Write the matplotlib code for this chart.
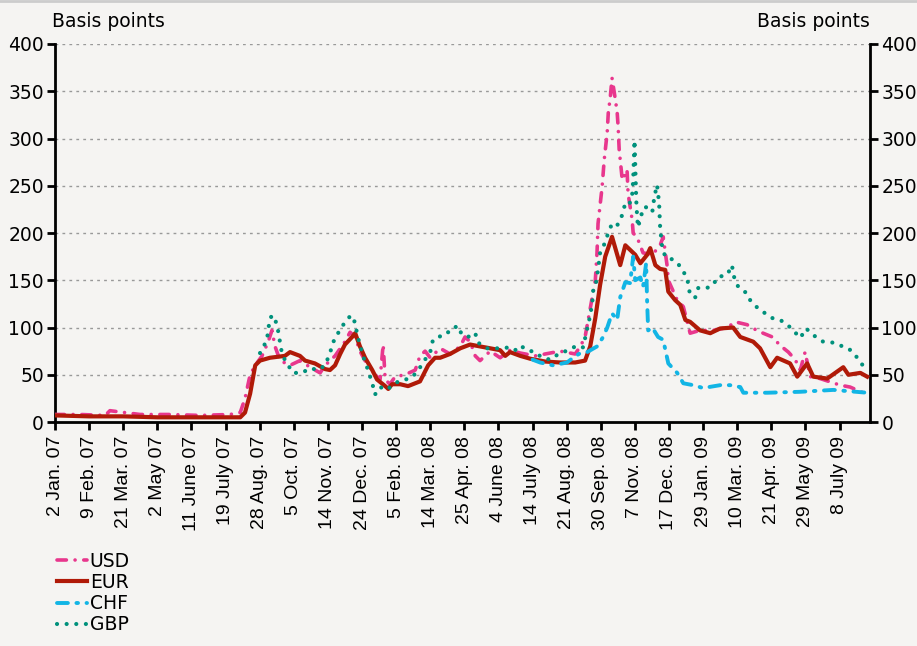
import matplotlib.pyplot as plt
from matplotlib.lines import Line2D

# x positions are in "tick units": 0 = 2 Jan. 07, 1 = 9 Feb. 07, ... 23 = 8 July 09
tick_labels = ['2 Jan. 07', '9 Feb. 07', '21 Mar. 07', '2 May 07', '11 June 07',
               '19 July 07', '28 Aug. 07', '5 Oct. 07', '14 Nov. 07', '24 Dec. 07',
               '5 Feb. 08', '14 Mar. 08', '25 Apr. 08', '4 June 08', '14 July 08',
               '21 Aug. 08', '30 Sep. 08', '7 Nov. 08', '17 Dec. 08', '29 Jan. 09',
               '10 Mar. 09', '21 Apr. 09', '29 May 09', '8 July 09']
y_ticks = [0, 50, 100, 150, 200, 250, 300, 350, 400]

eur = [(0, 7), (1.0, 6), (2.0, 6), (3.0, 5), (4.0, 5), (5.0, 5), (5.43, 5), (5.57, 10),
       (5.72, 30), (5.87, 60), (6.01, 65), (6.30, 68), (6.74, 70), (6.89, 74), (7.18, 70),
       (7.33, 65), (7.62, 62), (7.92, 56), (8.06, 55), (8.21, 60), (8.36, 72), (8.50, 82),
       (8.71, 90), (8.80, 94), (8.94, 80), (9.09, 68), (9.30, 55), (9.44, 45), (9.68, 38),
       (9.77, 35), (9.88, 40), (10.12, 40), (10.35, 38), (10.70, 43), (10.94, 60), (11.14, 68),
       (11.29, 68), (11.58, 72), (11.88, 78), (12.17, 82), (12.46, 80), (12.76, 78), (13.05, 76),
       (13.20, 70), (13.34, 74), (13.64, 70), (13.93, 67), (14.37, 64), (14.81, 63), (15.25, 63),
       (15.54, 65), (15.69, 80), (15.84, 110), (15.98, 145), (16.13, 175), (16.33, 196),
       (16.57, 166), (16.72, 187), (17.01, 177), (17.16, 168), (17.36, 177), (17.45, 184),
       (17.60, 166), (17.74, 162), (17.89, 161), (17.98, 138), (18.18, 129), (18.33, 124),
       (18.48, 108), (18.62, 106), (18.91, 97), (19.21, 94), (19.50, 99), (19.88, 100),
       (20.09, 90), (20.47, 85), (20.67, 78), (20.97, 58), (21.17, 68), (21.55, 62), (21.76, 48),
       (22.05, 62), (22.23, 48), (22.64, 46), (23.11, 58), (23.26, 50), (23.61, 52), (23.81, 48)]

usd = [(0, 8), (0.73, 8), (1.47, 7), (1.61, 12), (2.49, 8), (3.37, 8), (4.25, 7), (5.13, 8),
       (5.43, 10), (5.57, 25), (5.72, 50), (5.87, 60), (6.07, 70), (6.25, 85), (6.36, 97),
       (6.45, 80), (6.60, 65), (6.89, 60), (7.18, 65), (7.48, 58), (7.77, 52), (7.92, 60),
       (8.21, 70), (8.50, 85), (8.65, 95), (8.80, 90), (8.94, 75), (9.09, 65), (9.38, 50),
       (9.53, 45), (9.62, 82), (9.68, 45), (9.82, 40), (9.97, 48), (10.26, 50), (10.56, 55),
       (10.70, 70), (10.85, 75), (11.00, 68), (11.29, 78), (11.58, 72), (11.88, 80), (12.02, 90),
       (12.17, 85), (12.32, 70), (12.46, 65), (12.76, 75), (13.05, 68), (13.34, 76), (13.64, 73),
       (14.08, 70), (14.37, 72), (14.81, 75), (15.25, 72), (15.40, 80), (15.54, 90), (15.69, 120),
       (15.84, 150), (15.89, 179), (15.92, 210), (16.04, 249), (16.10, 277), (16.19, 307),
       (16.22, 327), (16.28, 344), (16.33, 364), (16.42, 343), (16.48, 328), (16.51, 312),
       (16.54, 288), (16.60, 267), (16.63, 256), (16.77, 267), (16.80, 242), (16.86, 228),
       (16.92, 214), (16.95, 200), (17.07, 195), (17.24, 179), (17.51, 177), (17.74, 187),
       (17.83, 196), (17.95, 164), (17.98, 150), (18.24, 129), (18.42, 122), (18.62, 94),
       (18.91, 97), (19.30, 97), (19.71, 100), (19.94, 106), (20.29, 103), (20.47, 99),
       (20.76, 94), (21.03, 90), (21.26, 81), (21.50, 74), (21.70, 66), (21.85, 55), (21.99, 74),
       (22.14, 48), (22.43, 46), (23.02, 39), (23.31, 37), (23.69, 31)]

chf = [(14.0, 66), (14.22, 63), (14.60, 60), (15.01, 63), (15.19, 68), (15.40, 73), (15.60, 74),
       (15.89, 80), (16.07, 90), (16.19, 100), (16.33, 115), (16.48, 108), (16.57, 132),
       (16.72, 148), (16.86, 147), (16.95, 175), (17.01, 150), (17.16, 153), (17.24, 143),
       (17.33, 168), (17.36, 126), (17.39, 97), (17.51, 100), (17.68, 90), (17.83, 87),
       (17.98, 62), (18.24, 52), (18.42, 41), (18.71, 39), (19.00, 36), (19.50, 39), (19.79, 39),
       (20.09, 37), (20.18, 31), (20.88, 31), (21.85, 32), (22.82, 34), (23.81, 31)]

gbp = [(6.01, 73), (6.10, 78), (6.22, 89), (6.25, 97), (6.30, 110), (6.39, 113), (6.51, 103),
       (6.57, 90), (6.66, 71), (6.80, 62), (6.98, 52), (7.24, 52), (7.48, 57), (7.71, 55),
       (7.92, 60), (8.06, 73), (8.21, 90), (8.36, 97), (8.50, 106), (8.68, 113), (8.80, 105),
       (8.86, 92), (9.00, 74), (9.09, 63), (9.18, 55), (9.33, 37), (9.38, 29), (9.53, 37),
       (9.74, 34), (9.88, 39), (10.12, 44), (10.41, 46), (10.62, 53), (10.79, 63), (11.00, 74),
       (11.08, 87), (11.23, 89), (11.44, 95), (11.58, 95), (11.79, 102), (11.94, 92), (12.17, 90),
       (12.32, 94), (12.40, 84), (12.67, 78), (12.84, 78), (13.05, 78), (13.34, 79), (13.49, 76),
       (13.64, 81), (13.84, 76), (14.08, 74), (14.28, 68), (14.52, 66), (14.72, 71), (14.90, 74),
       (15.04, 76), (15.31, 81), (15.48, 79), (15.63, 103), (15.69, 113), (15.75, 126),
       (15.78, 140), (15.84, 143), (15.92, 161), (15.98, 179), (16.07, 185), (16.22, 200),
       (16.33, 210), (16.48, 208), (16.57, 214), (16.66, 222), (16.72, 233), (16.86, 232),
       (16.92, 240), (16.95, 256), (16.97, 277), (16.99, 298), (17.02, 260), (17.04, 235),
       (17.07, 214), (17.10, 206), (17.16, 217), (17.30, 228), (17.51, 222), (17.57, 238),
       (17.65, 251), (17.71, 232), (17.74, 206), (17.80, 185), (17.89, 175), (17.95, 175),
       (18.24, 169), (18.53, 153), (18.62, 134), (18.77, 132), (18.86, 142), (19.12, 142),
       (19.30, 145), (19.41, 153), (19.71, 156), (19.85, 166), (19.88, 156), (20.03, 143),
       (20.29, 136), (20.38, 129), (20.59, 121), (20.82, 115), (21.03, 110), (21.26, 108),
       (21.47, 103), (21.64, 97), (21.85, 89), (22.02, 99), (22.23, 92), (22.52, 85), (22.82, 84),
       (23.02, 81), (23.26, 78), (23.46, 71), (23.61, 63), (23.81, 55)]

bg = '#f5f4f2'
plt.rcParams['font.family'] = ['DejaVu Sans']

fig = plt.figure(figsize=(9.17, 6.46), dpi=100, facecolor=bg)
ax = fig.add_axes([0.06, 0.3467, 0.889, 0.5852], facecolor=bg)

# les 4 séries
def trace(data, **kw):
    xs = [p[0] for p in data]
    ys = [p[1] for p in data]
    return ax.plot(xs, ys, **kw)[0]

l_usd = trace(usd, color='#e8378d', lw=2.6, ls=(0, (2.6, 2.4, 0.01, 2.4)),
              dash_capstyle='round', solid_capstyle='round', label='USD', zorder=3)
l_eur = trace(eur, color='#b01a08', lw=3.0, label='EUR', zorder=4)
l_chf = trace(chf, color='#12b5e5', lw=2.8, ls=(0, (2.8, 2.2, 0.4, 2.2)),
              dash_capstyle='round', label='CHF', zorder=5)
l_gbp = trace(gbp, color='#00917c', lw=3.0, ls=(0, (0.01, 2.3)),
              dash_capstyle='round', label='GBP', zorder=6)

ax.set_xlim(0, 23.9)
ax.set_ylim(0, 400)
ax.set_yticks(y_ticks)
ax.set_xticks(range(len(tick_labels)))
ax.set_xticklabels(tick_labels, rotation=90, family='Liberation Sans', fontsize=14)
ax.tick_params(axis='y', labelsize=13.5, width=2, length=6, left=True, right=True,
               labelleft=True, labelright=True, pad=2)
ax.tick_params(axis='x', width=2, length=6, pad=4)

for s in ['left', 'right', 'bottom']:
    ax.spines[s].set_linewidth(2)
ax.spines['top'].set_visible(False)

for y in y_ticks[1:]:
    ax.axhline(y, color='#999999', lw=1, ls=(0, (2, 3)), zorder=1)

fig.text(0.057, 0.966, 'Basis points', fontsize=13.5, ha='left', va='center')
fig.text(0.949, 0.966, 'Basis points', fontsize=13.5, ha='right', va='center')

fig.legend(handles=[l_usd, l_eur, l_chf, l_gbp], loc='upper left',
           bbox_to_anchor=(0.062, 0.146), frameon=False, fontsize=13.5,
           handlelength=1.6, handletextpad=0.15, labelspacing=0.12,
           borderaxespad=0, borderpad=0)

fig.add_artist(Line2D([0, 1], [0.998, 0.998], color='#cccccc', lw=2))

fig.savefig('out.png', dpi=100, facecolor=bg)
